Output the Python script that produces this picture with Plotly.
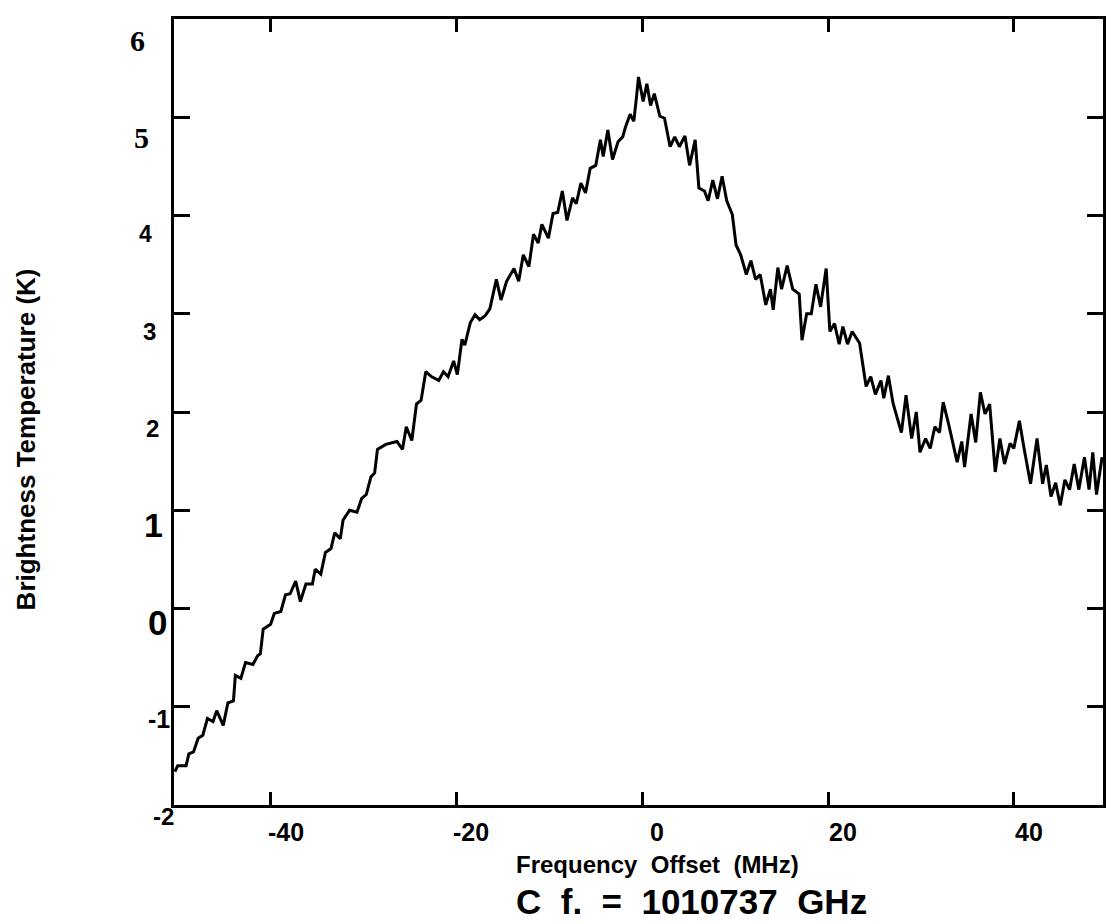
import plotly.graph_objects as go

# ---- data ----
freq_mhz = [
    -50.3, -50.0, -49.1, -48.8, -48.3, -47.8, -47.3, -46.8, -46.2, -45.8,
    -45.1, -44.6, -44.0, -43.8, -43.2, -42.7, -41.9, -41.4, -41.1, -40.8,
    -40.0, -39.6, -38.9, -38.4, -37.9, -37.3, -36.8, -36.2, -35.5, -35.2,
    -34.6, -34.1, -33.5, -33.1, -32.5, -32.2, -31.5, -30.7, -30.2, -29.7,
    -29.2, -28.8, -28.5, -27.6, -26.4, -25.8, -25.4, -24.8, -24.3, -23.8,
    -23.3, -22.7, -21.9, -21.4, -20.9, -20.3, -19.9, -19.4, -19.1, -18.5,
    -18.0, -17.5, -16.9, -16.4, -15.7, -15.2, -14.6, -13.8, -13.3, -12.8,
    -12.2, -11.7, -11.2, -10.8, -10.1, -9.6, -9.1, -8.6, -8.1, -7.5,
    -7.1, -6.6, -6.1, -5.6, -5.0, -4.5, -4.2, -3.7, -3.2, -2.6,
    -2.1, -1.8, -1.3, -0.9, -0.6, -0.4, 0.1, 0.5, 0.9, 1.3,
    1.9, 2.4, 3.0, 3.5, 4.0, 4.6, 5.1, 5.7, 6.1, 6.7,
    7.1, 7.6, 8.1, 8.6, 9.1, 9.7, 10.1, 10.6, 11.2, 11.7,
    12.2, 12.7, 13.3, 13.8, 14.1, 14.6, 15.0, 15.6, 16.2, 16.9,
    17.2, 17.7, 18.2, 18.7, 19.2, 19.8, 20.2, 20.7, 21.2, 21.6,
    22.1, 22.6, 23.4, 24.1, 24.6, 25.1, 25.7, 26.0, 26.5, 27.0,
    27.3, 27.9, 28.4, 29.0, 29.5, 29.9, 30.5, 31.0, 31.5, 32.0,
    32.4, 33.0, 33.9, 34.4, 34.7, 35.4, 35.9, 36.4, 36.9, 37.4,
    38.0, 38.5, 39.0, 39.6, 40.0, 40.6, 41.1, 41.8, 42.5, 43.1,
    43.5, 44.0, 44.5, 45.0, 45.5, 46.0, 46.5, 47.0, 47.6, 48.1,
    48.5, 48.9, 49.5,
]
brightness_k = [
    -1.66, -1.60, -1.60, -1.48, -1.46, -1.32, -1.29, -1.12, -1.15, -1.04,
    -1.19, -0.96, -0.94, -0.68, -0.71, -0.55, -0.57, -0.48, -0.46, -0.21,
    -0.16, -0.05, -0.03, 0.14, 0.15, 0.28, 0.07, 0.25, 0.25, 0.40,
    0.35, 0.57, 0.61, 0.77, 0.71, 0.90, 1.00, 0.98, 1.12, 1.16,
    1.34, 1.38, 1.62, 1.67, 1.70, 1.62, 1.85, 1.71, 2.08, 2.12,
    2.41, 2.36, 2.32, 2.41, 2.36, 2.52, 2.38, 2.74, 2.68, 2.91,
    2.99, 2.94, 2.98, 3.05, 3.35, 3.14, 3.33, 3.46, 3.33, 3.60,
    3.48, 3.81, 3.72, 3.91, 3.77, 4.02, 4.03, 4.25, 3.95, 4.18,
    4.12, 4.33, 4.23, 4.48, 4.51, 4.77, 4.60, 4.87, 4.57, 4.75,
    4.80, 4.90, 5.03, 4.96, 5.22, 5.41, 5.16, 5.34, 5.12, 5.24,
    5.01, 4.99, 4.70, 4.80, 4.70, 4.81, 4.51, 4.77, 4.28, 4.25,
    4.15, 4.36, 4.17, 4.40, 4.15, 4.01, 3.70, 3.60, 3.40, 3.54,
    3.35, 3.40, 3.09, 3.25, 3.04, 3.47, 3.25, 3.49, 3.25, 3.20,
    2.73, 3.00, 3.00, 3.30, 3.07, 3.46, 2.82, 2.90, 2.69, 2.87,
    2.69, 2.82, 2.70, 2.26, 2.36, 2.18, 2.32, 2.14, 2.37, 2.09,
    1.99, 1.79, 2.17, 1.73, 2.00, 1.59, 1.73, 1.63, 1.85, 1.79,
    2.10, 1.87, 1.49, 1.70, 1.44, 1.98, 1.69, 2.20, 1.98, 2.08,
    1.39, 1.73, 1.47, 1.68, 1.63, 1.91, 1.63, 1.27, 1.73, 1.27,
    1.46, 1.14, 1.28, 1.05, 1.31, 1.21, 1.47, 1.21, 1.54, 1.21,
    1.59, 1.16, 1.54,
]

x_tick_values = [-40, -20, 0, 20, 40]
x_tick_labels = ["-40", "-20", "0", "20", "40"]
y_tick_values = [-1, 0, 1, 2, 3, 4, 5]
y_label_values = [6, 5, 4, 3, 2, 1, 0, -1, -2]
y_label_texts = ["6", "5", "4", "3", "2", "1", "0", "-1", "-2"]

x_title = "Frequency  Offset  (MHz)"
y_title = "Brightness Temperature (K)"
caption = "C  f.  =  1010737  GHz"

# ---- styling / geometry (page pixels; the page body has an 8px margin) ----
PAGE_W, PAGE_H, PAD = 1118, 924, 8
PLOT_L, PLOT_R, PLOT_T, PLOT_B = 174, 1103, 16, 805
W, H = PAGE_W - PAD, PAGE_H - PAD
SANS = "Liberation Sans, Arial, sans-serif"
SERIF = "Liberation Serif, Times New Roman, serif"
y_label_fonts = {6: (SERIF, 30), 5: (SERIF, 30), 4: (SANS, 23), 3: (SANS, 24),
                 2: (SANS, 24), 1: (SANS, 34), 0: (SANS, 35), -1: (SANS, 25),
                 -2: (SANS, 24)}

fig = go.Figure()
fig.add_trace(go.Scatter(
    x=freq_mhz, y=brightness_k, mode="lines",
    line=dict(color="black", width=3), showlegend=False,
))

annotations = []
for v, t in zip(y_label_values, y_label_texts):
    fam, size = y_label_fonts[v]
    right_px = 147 + (6 - v) * 3.6
    annotations.append(dict(
        x=0, xref="paper", xanchor="right", xshift=right_px - PLOT_L,
        y=v, yref="y", yanchor="middle", yshift=-(21 - (6 - v) * 1.2),
        text=t, showarrow=False,
        font=dict(family=fam, size=size, color="black", weight="bold"),
    ))
for v, t in zip(x_tick_values, x_tick_labels):
    annotations.append(dict(
        x=v, xref="x", xanchor="center", xshift=15,
        y=0, yref="paper", yanchor="middle", yshift=-27,
        text=t, showarrow=False,
        font=dict(family=SANS, size=25, color="black", weight="bold"),
    ))
annotations.append(dict(
    x=(657 - PLOT_L) / (PLOT_R - PLOT_L), xref="paper", xanchor="center",
    y=0, yref="paper", yanchor="middle", yshift=-59,
    text=x_title, showarrow=False,
    font=dict(family=SANS, size=24, color="black", weight="bold"),
))
annotations.append(dict(
    x=(691 - PLOT_L) / (PLOT_R - PLOT_L), xref="paper", xanchor="center",
    y=0, yref="paper", yanchor="middle", yshift=-96,
    text=caption, showarrow=False,
    font=dict(family=SANS, size=35, color="black", weight="bold"),
))
annotations.append(dict(
    x=0, xref="paper", xanchor="center", xshift=26 - PLOT_L,
    y=(PLOT_B - 438) / (PLOT_B - PLOT_T), yref="paper", yanchor="middle",
    text=y_title, textangle=-90, showarrow=False,
    font=dict(family=SANS, size=26, color="black", weight="bold"),
))

axis_common = dict(
    showgrid=False, zeroline=False, showline=True, linecolor="black",
    linewidth=3, mirror="ticks", ticks="inside", tickcolor="black",
    tickwidth=2.5, showticklabels=False,
)
fig.update_xaxes(range=[-50.4, 49.6], tickvals=x_tick_values, ticklen=13,
                 **axis_common)
fig.update_yaxes(range=[-2, 6], tickvals=y_tick_values, ticklen=16,
                 **axis_common)

fig.update_layout(
    width=W, height=H,
    margin=dict(l=PLOT_L - PAD, r=PAGE_W - PLOT_R,
                t=PLOT_T - PAD, b=PAGE_H - PLOT_B),
    paper_bgcolor="white", plot_bgcolor="white",
    annotations=annotations,
    showlegend=False,
)

fig.write_html("out.html")
